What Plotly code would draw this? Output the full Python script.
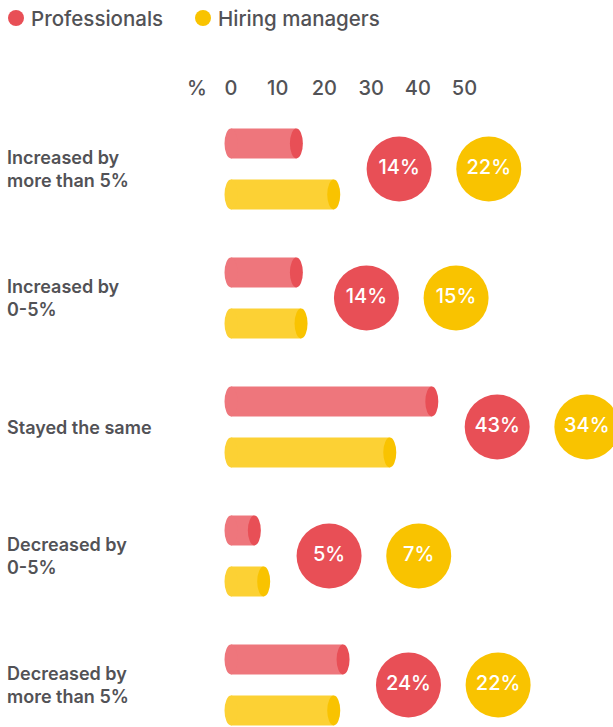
import plotly.graph_objects as go

# Survey answers: how pay changed over the last year
categories = [
    "Increased by<br>more than 5%",
    "Increased by<br>0-5%",
    "Stayed the same",
    "Decreased by<br>0-5%",
    "Decreased by<br>more than 5%",
]
professionals = [14, 14, 43, 5, 24]
hiring_managers = [22, 15, 34, 7, 22]
series_names = ["Professionals", "Hiring managers"]
tick_values = [-7.3, 0, 10, 20, 30, 40, 50]
tick_labels = ["%", "0", "10", "20", "30", "40", "50"]

W, H = 613, 727
TOP = 100
FONT = "Inter"
TEXT = "#525256"

RED_BODY, RED_CAP, RED_DOT = "#ee767c", "#e84f56", "#e84f56"
YEL_BODY, YEL_CAP, YEL_DOT = "#fcd134", "#f9c300", "#f9c300"

# pixel geometry of the value axis
X0_PX, PX_PER_UNIT = 231, 4.67
x_range = [-X0_PX / PX_PER_UNIT, (W - X0_PX) / PX_PER_UNIT]
ROW0_PX, ROW_PX = 169, 129
y_range = [(H - ROW0_PX) / ROW_PX, (TOP - ROW0_PX) / ROW_PX]

BAR_H = 30 / ROW_PX            # bar thickness in row units
OFFSET = 25.5 / ROW_PX         # distance of each bar from row centre
CAP_HALF = 6.5 / PX_PER_UNIT   # half width of the cylinder end caps
RED_GAP = 14.0                 # red bubble offset past the longest bar
YEL_GAP = 19.2                 # yellow bubble offset past the red bubble


def paper_y(px):
    """Figure pixel row -> paper coordinate (plot area spans TOP..H)."""
    return (H - px) / (H - TOP)


rows = list(range(len(categories)))
fig = go.Figure()
shapes = []

for vals, sign, body, cap in [
    (professionals, -1, RED_BODY, RED_CAP),
    (hiring_managers, 1, YEL_BODY, YEL_CAP),
]:
    ys = [r + sign * OFFSET for r in rows]
    fig.add_trace(go.Bar(
        x=vals, y=ys, base=0, orientation="h", width=BAR_H,
        marker=dict(color=body, line=dict(width=0)),
        hoverinfo="skip", showlegend=False,
    ))
    for v, y in zip(vals, ys):
        # rounded start of the cylinder
        shapes.append(dict(type="circle", xref="x", yref="y", layer="above",
                           x0=-CAP_HALF, x1=CAP_HALF,
                           y0=y - BAR_H / 2, y1=y + BAR_H / 2,
                           fillcolor=body, line=dict(width=0)))
        # darker visible end face
        shapes.append(dict(type="circle", xref="x", yref="y", layer="above",
                           x0=v - CAP_HALF, x1=v + CAP_HALF,
                           y0=y - BAR_H / 2, y1=y + BAR_H / 2,
                           fillcolor=cap, line=dict(width=0)))

# value bubbles to the right of each pair of bars
longest = [max(a, b) for a, b in zip(professionals, hiring_managers)]
red_x = [m + RED_GAP for m in longest]
yel_x = [x + YEL_GAP for x in red_x]
for xs, vals, color in [(red_x, professionals, RED_DOT),
                        (yel_x, hiring_managers, YEL_DOT)]:
    fig.add_trace(go.Scatter(
        x=xs, y=rows, mode="markers+text",
        marker=dict(size=65, color=color, line=dict(width=0)),
        text=[f"{v}%" for v in vals], textposition="middle center",
        textfont=dict(family=FONT, size=20, color="white", weight=500),
        hoverinfo="skip", showlegend=False,
    ))

annotations = []
for r, label in zip(rows, categories):
    annotations.append(dict(
        x=5 / W, xref="paper", y=r, yref="y", text=label, showarrow=False,
        xanchor="left", yanchor="middle", align="left",
        font=dict(family=FONT, size=18, color=TEXT, weight=600),
    ))

# legend row
legend_items = [(16, RED_DOT, 29, series_names[0]),
                (203, YEL_DOT, 216, series_names[1])]
for cx, color, tx, name in legend_items:
    shapes.append(dict(type="circle", xref="paper", yref="paper",
                       x0=(cx - 8) / W, x1=(cx + 8) / W,
                       y0=paper_y(18 + 8), y1=paper_y(18 - 8),
                       fillcolor=color, line=dict(width=0)))
    annotations.append(dict(
        x=tx / W, xref="paper", y=paper_y(18), yref="paper", text=name,
        showarrow=False, xanchor="left", yanchor="middle",
        font=dict(family=FONT, size=20.5, color=TEXT, weight=500),
    ))

fig.update_layout(
    width=W, height=H,
    margin=dict(l=0, r=0, t=TOP, b=0, pad=0),
    paper_bgcolor="white", plot_bgcolor="white",
    barmode="overlay", showlegend=False,
    shapes=shapes, annotations=annotations,
    xaxis=dict(range=x_range, side="top", tickvals=tick_values,
               ticktext=tick_labels, showgrid=False, zeroline=False,
               showline=False, ticks="", fixedrange=True,
               tickfont=dict(family=FONT, size=20, color=TEXT, weight=500)),
    yaxis=dict(range=y_range, showgrid=False, zeroline=False,
               showline=False, showticklabels=False, ticks="",
               fixedrange=True),
)

fig.write_html("out.html")
